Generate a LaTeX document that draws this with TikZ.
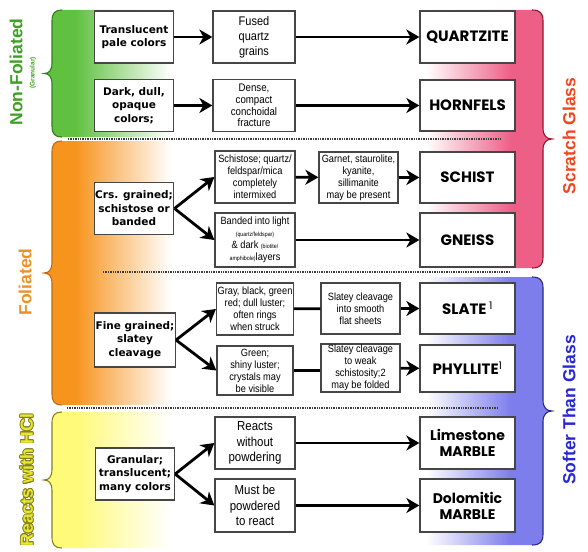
\documentclass[tikz,border=0pt]{standalone}
\usepackage{fontspec}
\setmainfont{Liberation Sans}
\newfontfamily\heavyfont{DejaVu Sans}
\newfontfamily\narrowfont[FakeStretch=0.88]{Liberation Sans}
\newfontfamily\rockfont{Poppins}
\usepackage{contour}
\contourlength{0.8pt}
\usetikzlibrary{arrows.meta}

\definecolor{grnfill}{RGB}{96,192,64}
\definecolor{grnedge}{RGB}{50,125,30}
\definecolor{grntext}{RGB}{60,160,35}
\definecolor{orgfill}{RGB}{247,148,29}
\definecolor{orgedge}{RGB}{190,105,20}
\definecolor{orgtext}{RGB}{235,145,40}
\definecolor{ylwfill}{RGB}{255,250,120}
\definecolor{ylwedge}{RGB}{130,130,35}
\definecolor{ylwtext}{RGB}{235,230,50}
\definecolor{pnkfill}{RGB}{238,95,135}
\definecolor{pnkedge}{RGB}{150,20,45}
\definecolor{redtext}{RGB}{240,70,30}
\definecolor{blufill}{RGB}{125,125,235}
\definecolor{bluedge}{RGB}{40,40,140}
\definecolor{blutext}{RGB}{40,40,210}
\definecolor{boxgray}{RGB}{70,70,70}
\definecolor{sepgray}{RGB}{60,60,60}

\pgfdeclarehorizontalshading{grnshade}{100bp}{color(0bp)=(grnfill); color(36bp)=(grnfill); color(70bp)=(white); color(100bp)=(white)}
\pgfdeclarehorizontalshading{orgshade}{100bp}{color(0bp)=(orgfill); color(36bp)=(orgfill); color(70bp)=(white); color(100bp)=(white)}
\pgfdeclarehorizontalshading{ylwshade}{100bp}{color(0bp)=(ylwfill); color(36bp)=(ylwfill); color(70bp)=(white); color(100bp)=(white)}
\pgfdeclarehorizontalshading{pnkshade}{100bp}{color(0bp)=(white); color(29bp)=(white); color(60bp)=(pnkfill); color(100bp)=(pnkfill)}
\pgfdeclarehorizontalshading{blushade}{100bp}{color(0bp)=(white); color(29bp)=(white); color(60bp)=(blufill); color(100bp)=(blufill)}

\begin{document}
\begin{tikzpicture}[x=1pt,y=-1pt]
\tikzstyle{key}=[draw=boxgray,fill=white,line width=1.3pt,align=center,inner sep=1pt,minimum width=79pt,minimum height=52pt,font=\heavyfont\bfseries\fontsize{10.5}{13.5}\selectfont]
\tikzstyle{note}=[draw=boxgray,fill=white,line width=1.3pt,align=center,inner sep=1pt,minimum width=80pt,minimum height=52pt,font=\narrowfont\fontsize{10.5}{12}\selectfont]
\tikzstyle{rock}=[draw=boxgray,fill=white,line width=1.3pt,align=center,inner sep=1pt,minimum width=95pt]
\tikzstyle{flow}=[line width=2.8pt,-{Stealth[length=13pt,width=15pt,inset=4pt]}]
\tikzstyle{link}=[line width=2.8pt]
\tikzstyle{sep}=[line width=1.6pt,sepgray,dash pattern=on 1.4pt off 1pt]
\tikzstyle{side}=[rotate=90,font=\bfseries\fontsize{17.5}{20}\selectfont]

\useasboundingbox (0,0) rectangle (588,551);

% coloured braces, left side
\foreach \ya/\yb/\shd/\edg in {10/137/grnshade/grnedge,141/405/orgshade/orgedge,412/548/ylwshade/ylwedge} {
  \pgfmathsetmacro\ym{(\ya+\yb)/2}
  \shade[shading=\shd] (185,\ya) -- (62,\ya) .. controls (55,\ya) and (52,\ya+3) .. (52,\ya+11) -- (52,\ym-11) .. controls (52,\ym-3) and (49,\ym) .. (44,\ym) .. controls (49,\ym) and (52,\ym+3) .. (52,\ym+11) -- (52,\yb-11) .. controls (52,\yb-3) and (55,\yb) .. (62,\yb) -- (185,\yb) -- cycle;
  \draw[\edg,line width=1.1pt] (62,\ya) .. controls (55,\ya) and (52,\ya+3) .. (52,\ya+11) -- (52,\ym-11) .. controls (52,\ym-3) and (49,\ym) .. (44,\ym) .. controls (49,\ym) and (52,\ym+3) .. (52,\ym+11) -- (52,\yb-11) .. controls (52,\yb-3) and (55,\yb) .. (62,\yb);
}

% coloured braces, right side
\foreach \ya/\yb/\shd/\edg in {10/268/pnkshade/pnkedge,277/545/blushade/bluedge} {
  \pgfmathsetmacro\ym{(\ya+\yb)/2}
  \shade[shading=\shd] (415,\ya) -- (532,\ya) .. controls (540,\ya) and (543,\ya+3) .. (543,\ya+11) -- (543,\ym-11) .. controls (543,\ym-3) and (547,\ym) .. (552,\ym) .. controls (547,\ym) and (543,\ym+3) .. (543,\ym+11) -- (543,\yb-11) .. controls (543,\yb-3) and (540,\yb) .. (532,\yb) -- (415,\yb) -- cycle;
  \draw[\edg,line width=1.1pt] (532,\ya) .. controls (540,\ya) and (543,\ya+3) .. (543,\ya+11) -- (543,\ym-11) .. controls (543,\ym-3) and (547,\ym) .. (552,\ym) .. controls (547,\ym) and (543,\ym+3) .. (543,\ym+11) -- (543,\yb-11) .. controls (543,\yb-3) and (540,\yb) .. (532,\yb);
}

% side labels
\node[side,grntext] (nonfol) at (16,72) {Non-Foliated};
\node[rotate=90,grntext,font=\bfseries\fontsize{6.5}{7}\selectfont] (granular) at (33,73) {(Granular)};
\node[side,orgtext] (fol) at (25,282) {Foliated};
\node[side,ylwtext] (hcl) at (27,480) {\contour{ylwedge}{Reacts with HCl}};
\node[side,redtext] (scratch) at (569,136) {Scratch Glass};
\node[side,blutext] (softer) at (569,410) {Softer Than Glass};

% separators
\draw[sep] (68,139) -- (502,139);
\draw[sep] (103,272) -- (510,272);
\draw[sep] (67,408) -- (497,408);

% first column
\node[key] (trans) at (134,37) {Translucent\\pale colors};
\node[key] (dark) at (134,105.5) {Dark, dull,\\opaque\\colors;};
\node[key] (crs) at (134,208.5) {Crs. grained;\\schistose or\\banded};
\node[key,minimum height=54pt] (fine) at (135,340) {Fine grained;\\slatey\\cleavage};
\node[key] (gran) at (135,474) {Granular;\\translucent;\\many colors};

% middle columns
\node[note,minimum width=82pt,font=\narrowfont\fontsize{12.5}{15}\selectfont] (fused) at (254,37) {Fused\\quartz\\grains};
\node[note,minimum width=82pt,font=\narrowfont\fontsize{11}{11.8}\selectfont] (dense) at (254,105.5) {Dense,\\compact\\conchoidal\\fracture};
\node[note] (schistose) at (255,177) {Schistose; quartz/\\feldspar/mica\\completely\\intermixed};
\node[note,minimum height=54pt] (banded) at (255,240) {Banded into light\\{\fontsize{6}{6}\selectfont(quartz/feldspar)}\\\& dark {\fontsize{6}{6}\selectfont(biotite/}\\{\fontsize{6}{6}\selectfont amphibole)}layers};
\node[note,minimum width=76pt] (gray) at (255,309) {Gray, black, green\\red; dull luster;\\often rings\\when struck};
\node[note,minimum width=76pt,minimum height=49pt] (greenb) at (255,370.5) {Green;\\shiny luster;\\crystals may\\be visible};
\node[note,font=\narrowfont\fontsize{13}{15.5}\selectfont] (reacts) at (255,443) {Reacts\\without\\powdering};
\node[note,minimum height=53pt,font=\narrowfont\fontsize{13}{15.5}\selectfont] (must) at (255,505.5) {Must be\\powdered\\to react};
\node[note,minimum width=79pt,minimum height=51pt] (garnet) at (358.5,177.5) {Garnet, staurolite,\\kyanite,\\sillimanite\\may be present};
\node[note,minimum width=79pt,minimum height=51pt] (slcl1) at (360.5,308.5) {Slatey cleavage\\into smooth\\flat sheets};
\node[note,minimum width=79pt,minimum height=46pt] (slcl2) at (360.5,368) {Slatey cleavage\\to weak\\schistosity;2\\may be folded};

% rock names
\foreach \nm/\yy/\hh/\fs/\txt in {quartzite/37/52/15/QUARTZITE,hornfels/105.5/51/15/HORNFELS,schist/177.5/51/15/SCHIST,gneiss/240/54/15/GNEISS,slate/308.5/51/15/{SLATE\,\textsuperscript{\mdseries 1}},phyllite/368.5/47/15/{PHYLLITE\textsuperscript{\mdseries 1}},limestone/443/52/14/{Limestone\\MARBLE},dolomitic/505.5/53/14/{Dolomitic\\MARBLE}}
  \node[rock,minimum height=\hh pt,font=\rockfont\bfseries\fontsize{\fs}{16}\selectfont] (\nm) at (467.5,\yy) {\txt};

% non-foliated
\draw[flow] (trans) -- (fused);
\draw[flow] (fused) -- (quartzite);
\draw[flow] (dark) -- (dense);
\draw[flow] (dense) -- (hornfels);

% foliated, coarse
\draw[flow] (crs.east) -- (schistose.west);
\draw[flow] (crs.east) -- (banded.west);
\draw[flow] (schistose) -- (garnet);
\draw[flow] (garnet) -- (schist);
\draw[flow] (banded) -- (gneiss);

% foliated, fine
\draw[flow] (fine.east) -- (gray.west);
\draw[flow] (fine.east) -- (greenb.west);
\draw[link] (gray) -- (slcl1);
\draw[link] (greenb.east) -- (greenb.east -| slcl2.west);
\draw[flow] (slcl1) -- (slate);
\draw[flow] (slcl2) -- (phyllite);

% reacts with HCl
\draw[flow] (gran.east) -- (reacts.west);
\draw[flow] (gran.east) -- (must.west);
\draw[flow] (reacts) -- (limestone);
\draw[flow] (must) -- (dolomitic);
\end{tikzpicture}
\end{document}
